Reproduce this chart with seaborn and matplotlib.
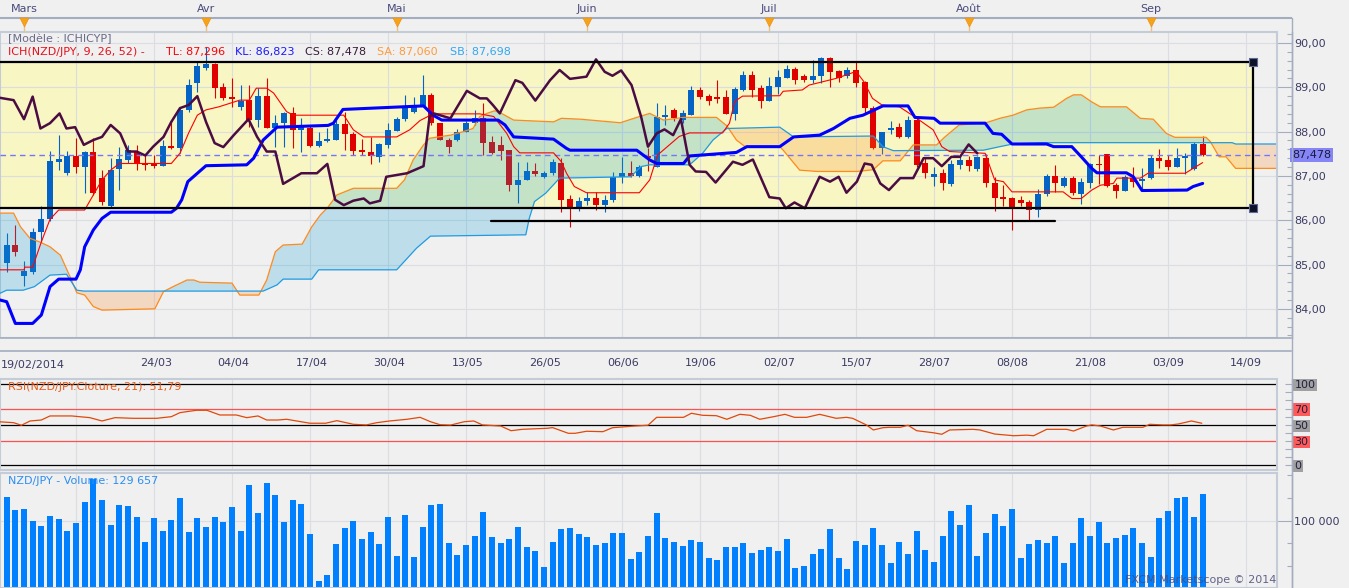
import numpy as np
import matplotlib.pyplot as plt
import matplotlib.transforms as mtransforms
import seaborn as sns
from matplotlib.lines import Line2D
from matplotlib.patches import Polygon, Rectangle
from matplotlib.ticker import FixedLocator, MultipleLocator, AutoMinorLocator, FuncFormatter

sns.set_theme(style="white", rc={"axes.facecolor": "#f0f0f0", "figure.facecolor": "#f0f0f0"})
plt.rcParams["font.family"] = ["DejaVu Sans"]

# NZD/JPY daily candles, bar 0 = 03/03/2014, bar 136 = 09/09/2014
first_bar = -3
opens = [85.12, 85.03, 85.44, 84.73, 84.84, 85.73, 86.03, 87.32, 87.06, 87.46,
         87.19, 87.55, 86.95, 86.33, 87.16, 87.36, 87.55, 87.30, 87.28, 87.23,
         87.68, 87.62, 88.49, 89.10, 89.43, 89.53, 89.00, 88.77, 88.56, 88.71,
         88.26, 88.80, 88.07, 88.19, 88.41, 88.04, 88.09, 87.68, 87.79, 87.81,
         88.17, 87.94, 87.58, 87.55, 87.43, 87.70, 88.02, 88.28, 88.44, 88.58,
         88.83, 88.20, 87.81, 87.81, 88.00, 88.19, 88.30, 87.77, 87.70, 87.58,
         86.79, 86.91, 87.10, 86.97, 87.06, 87.30, 86.47, 86.30, 86.44, 86.49,
         86.34, 86.46, 86.98, 87.07, 87.00, 87.45, 87.21, 88.32, 88.49, 88.26,
         88.37, 88.94, 88.80, 88.79, 88.77, 88.39, 88.94, 89.28, 88.99, 88.68,
         89.00, 89.22, 89.41, 89.26, 89.16, 89.26, 89.65, 89.37, 89.26, 89.39,
         89.13, 88.53, 87.64, 88.04, 88.11, 87.88, 88.26, 87.28, 86.98, 87.06,
         86.82, 87.25, 87.36, 87.16, 87.41, 86.84, 86.52, 86.49, 86.46, 86.42,
         86.23, 86.59, 87.00, 86.78, 86.96, 86.59, 86.85, 87.27, 87.49, 86.79,
         86.67, 86.95, 86.88, 86.95, 87.40, 87.37, 87.21, 87.40, 87.15, 87.72]
highs = [85.20, 85.71, 85.89, 85.08, 85.83, 86.32, 87.56, 87.92, 87.56, 87.86,
         87.57, 87.86, 87.13, 87.40, 87.66, 87.70, 87.70, 87.49, 87.47, 87.81,
         88.26, 88.56, 89.19, 89.58, 89.92, 89.55, 89.09, 89.20, 89.05, 89.05,
         88.98, 89.20, 88.37, 88.44, 88.55, 88.30, 88.12, 87.98, 88.07, 88.26,
         88.45, 87.98, 87.83, 87.88, 87.75, 88.19, 88.33, 88.83, 88.78, 89.28,
         88.87, 88.20, 87.85, 88.05, 88.25, 88.49, 88.64, 87.89, 87.89, 87.58,
         87.32, 87.32, 87.28, 87.12, 87.39, 87.40, 86.57, 86.53, 86.63, 86.63,
         86.58, 87.09, 87.43, 87.33, 87.25, 87.62, 88.64, 88.59, 88.53, 88.49,
         89.03, 89.01, 88.85, 89.16, 88.95, 89.00, 89.37, 89.37, 89.05, 89.23,
         89.39, 89.50, 89.45, 89.30, 89.62, 89.68, 89.68, 89.40, 89.45, 89.56,
         89.15, 88.58, 88.00, 88.24, 88.20, 88.35, 88.35, 87.43, 87.20, 87.15,
         87.36, 87.45, 87.45, 87.45, 87.50, 86.98, 86.79, 86.53, 86.55, 86.46,
         86.70, 87.04, 87.25, 87.00, 87.00, 86.95, 87.29, 87.47, 87.49, 86.85,
         87.02, 87.21, 87.17, 87.47, 87.60, 87.48, 87.64, 87.52, 87.76, 87.90]
lows = [84.98, 84.83, 85.19, 84.51, 84.79, 85.51, 85.98, 87.13, 87.02, 87.07,
        86.61, 86.56, 86.34, 86.28, 86.68, 87.29, 87.13, 87.13, 87.18, 87.22,
        87.61, 87.51, 88.45, 88.90, 89.39, 88.75, 88.71, 88.56, 88.49, 88.11,
        88.11, 88.07, 87.66, 87.66, 87.62, 87.55, 87.66, 87.66, 87.77, 87.81,
        87.58, 87.47, 87.47, 87.27, 87.31, 87.62, 88.02, 88.25, 88.43, 88.58,
        88.15, 87.80, 87.52, 87.78, 87.98, 88.14, 87.47, 87.49, 87.36, 86.67,
        86.38, 86.90, 86.99, 86.95, 87.02, 86.19, 85.85, 86.21, 86.35, 86.22,
        86.19, 86.41, 86.85, 86.98, 86.97, 87.10, 87.21, 88.14, 88.23, 88.20,
        88.37, 88.74, 88.60, 88.64, 88.39, 88.26, 88.92, 88.79, 88.53, 88.68,
        88.85, 89.20, 89.08, 89.12, 89.10, 89.10, 89.00, 89.12, 89.20, 89.00,
        88.43, 87.60, 87.50, 87.95, 87.85, 87.85, 87.20, 86.96, 86.78, 86.68,
        86.77, 87.15, 87.10, 87.10, 86.76, 86.21, 86.33, 85.78, 86.33, 86.00,
        86.08, 86.55, 86.63, 86.75, 86.57, 86.36, 86.73, 86.82, 86.74, 86.51,
        86.65, 86.75, 86.68, 86.92, 87.18, 87.13, 87.20, 87.04, 87.13, 87.46]
closes = [85.03, 85.44, 85.28, 84.86, 85.74, 86.03, 87.34, 87.38, 87.46, 87.19,
          87.55, 86.61, 86.42, 87.13, 87.38, 87.58, 87.28, 87.25, 87.23, 87.68,
          87.62, 88.49, 89.05, 89.47, 89.53, 88.98, 88.75, 88.74, 88.69, 88.26,
          88.80, 88.07, 88.19, 88.41, 88.04, 88.11, 87.68, 87.79, 87.83, 88.17,
          87.94, 87.57, 87.53, 87.46, 87.72, 88.04, 88.28, 88.53, 88.58, 88.83,
          88.19, 87.81, 87.66, 88.00, 88.20, 88.30, 87.75, 87.52, 87.57, 86.79,
          86.91, 87.10, 87.04, 87.07, 87.31, 86.46, 86.30, 86.43, 86.49, 86.34,
          86.46, 86.98, 87.06, 87.00, 87.21, 87.40, 88.34, 88.37, 88.30, 88.41,
          88.94, 88.79, 88.68, 88.74, 88.39, 88.96, 89.28, 88.94, 88.68, 89.03,
          89.24, 89.41, 89.16, 89.16, 89.26, 89.65, 89.35, 89.22, 89.39, 89.10,
          88.53, 87.64, 87.98, 88.09, 87.88, 88.26, 87.25, 87.07, 87.05, 86.83,
          87.27, 87.36, 87.22, 87.42, 86.83, 86.49, 86.47, 86.25, 86.38, 86.23,
          86.59, 87.00, 86.84, 86.95, 86.61, 86.86, 87.27, 87.25, 86.78, 86.67,
          86.98, 86.87, 86.92, 87.40, 87.34, 87.21, 87.40, 87.44, 87.72, 87.478]
volumes = [100700, 126400, 111700, 112900, 99600, 94100, 105100, 101800, 88600, 97400,
           120600, 145500, 122800, 95200, 117600, 116500, 104000, 76500, 102900, 88600,
           100700, 125000, 87500, 102900, 93000, 104000, 98500, 115100, 88600, 139300,
           108400, 141500, 128300, 98500, 122800, 118400, 85300, 33600, 40200, 74300,
           91900, 99600, 79800, 87500, 74300, 104000, 61100, 106200, 60000, 93000,
           117300, 118400, 75400, 62200, 73200, 83100, 109500, 82000, 75400, 79800,
           93000, 71000, 66600, 49000, 76500, 90800, 91900, 85300, 82000, 73200,
           75400, 86400, 86400, 57800, 65500, 83100, 108400, 80900, 76500, 72100,
           78700, 76500, 58900, 56700, 71000, 71000, 75400, 64400, 67700, 71000,
           66600, 79800, 47900, 50100, 63300, 68800, 90800, 58900, 46800, 77600,
           73200, 91900, 73200, 53400, 76500, 63300, 88600, 67700, 54500, 83100,
           110600, 95200, 117300, 61100, 86400, 107300, 94100, 112900, 58900, 74300,
           78700, 75400, 83100, 53400, 75400, 102900, 83100, 98500, 75400, 80900,
           84200, 91900, 75400, 60000, 102900, 110600, 125000, 126100, 104000, 129657]

# Ichimoku lines (vertices, x = bar number)
tenkan_x = [-3, 0, 0.1, 1, 2, 3, 4, 7, 8, 9, 10, 11, 17, 18, 19, 20, 21, 22.5, 24.9, 26,
            26.8, 28, 28.8, 30.3, 31.1, 36.9, 38, 39.2, 43, 44.5, 45.7, 47.2, 52.6, 54.2,
            55.7, 56.5, 57.2, 61.1, 62, 62.6, 63.5, 64.9, 71, 72.2, 73.1, 75.6, 76.8, 80.6,
            81.4, 82, 82.9, 87.2, 87.6, 89.8, 90.6, 93.7, 95.2, 96, 96.9, 97.9, 99, 101,
            102.8, 104.9, 105.9, 106.8, 110.9, 112, 113, 114, 119.9, 120.9, 122, 123.2,
            124.2, 125.7, 126.1, 128.8, 129.7, 134, 134.9, 136]
tenkan_y = [84.88, 84.88, 84.94, 84.94, 85.51, 86.02, 86.23, 86.23, 86.57, 86.91, 87.13,
            87.28, 87.28, 87.51, 87.97, 88.37, 88.49, 88.56, 88.71, 88.71, 88.98, 88.98,
            88.87, 88.45, 88.37, 88.37, 88.04, 87.88, 87.88, 88.04, 88.25, 88.40, 88.40,
            88.34, 87.96, 87.66, 87.52, 87.52, 87.32, 87.06, 86.76, 86.62, 86.62, 86.91,
            87.47, 87.89, 87.97, 87.97, 88.19, 88.68, 88.80, 88.81, 88.91, 88.94, 89.05,
            89.20, 89.30, 89.36, 89.13, 88.75, 88.60, 88.56, 88.33, 88.04, 87.66, 87.55,
            87.51, 86.91, 86.87, 86.64, 86.64, 86.49, 86.49, 86.68, 86.79, 86.83, 86.95,
            86.95, 87.06, 87.06, 87.17, 87.30]
kijun_x = [-3, -2, -1, 1, 2, 3, 4, 6, 6.5, 7, 8, 9, 10, 17, 17.6, 18.2, 18.9, 21, 25.7,
           26.5, 27.6, 29.2, 35.1, 35.7, 36.8, 46.1, 47.2, 48.2, 54.7, 55.5, 56.5, 61.1,
           62.6, 63, 70.7, 72.2, 73, 76.1, 76.8, 79.5, 82.2, 83.4, 87.2, 88.8, 91.8, 93.4,
           95.3, 96.8, 99.1, 102, 102.8, 105, 105.7, 110.9, 111.8, 112.8, 114, 118, 118.8,
           120.9, 122, 123.2, 123.8, 127.2, 128, 129, 134.2, 134.9, 136]
kijun_y = [84.21, 84.16, 83.67, 83.67, 83.86, 84.50, 84.67, 84.67, 84.88, 85.40, 85.78,
           86.04, 86.18, 86.18, 86.27, 86.46, 86.87, 87.23, 87.25, 87.40, 87.81, 88.10,
           88.14, 88.19, 88.50, 88.58, 88.37, 88.26, 88.26, 88.15, 87.88, 87.83, 87.62,
           87.58, 87.58, 87.36, 87.28, 87.28, 87.45, 87.49, 87.53, 87.66, 87.66, 87.88,
           87.92, 88.07, 88.30, 88.37, 88.58, 88.58, 88.32, 88.30, 88.19, 88.19, 87.96,
           87.94, 87.72, 87.72, 87.66, 87.66, 87.43, 87.17, 87.07, 87.07, 86.98, 86.67,
           86.68, 86.76, 86.83]
chikou_x = [-3, -1.2, 0, 1, 1.9, 3, 4.1, 4.9, 5.9, 6.9, 8, 9, 10, 11.1, 12, 13, 14, 14.9,
            16.1, 17, 18, 19, 20, 21, 22, 23, 24.2, 25.9, 26.9, 28, 29, 29.9, 32, 33.8,
            35, 35.9, 36.9, 38, 39.2, 39.9, 41.1, 41.8, 44.2, 46.1, 46.8, 47.3, 49.2, 51.1,
            52.6, 53.4, 54.1, 54.9, 56.7, 57.5, 59, 60.7, 61.8, 63, 64.9, 66, 67, 67.9,
            68.9, 70.1, 71.2, 72, 73, 73.9, 74.9, 75.8, 76.8, 77.5, 78.7, 79.8, 81.8, 82.9,
            84.1, 86, 87.2, 87.9, 88.9, 90.1, 91.8, 93, 94, 94.9, 96.1, 97, 97.8, 98.8,
            99.8, 101.1, 102.6, 103.8, 104.9, 105.9, 107, 108, 109, 110]
chikou_y = [88.77, 88.71, 88.28, 88.79, 88.07, 88.19, 88.41, 88.07, 88.10, 87.70, 87.81,
            87.88, 88.15, 87.96, 87.55, 87.55, 87.46, 87.66, 87.88, 88.22, 88.53, 88.60,
            88.80, 88.22, 87.74, 87.65, 87.92, 88.28, 87.88, 87.55, 87.55, 86.82, 87.06,
            87.06, 87.27, 86.46, 86.34, 86.44, 86.49, 86.38, 86.44, 86.98, 87.06, 87.22,
            88.34, 88.41, 88.30, 88.92, 88.75, 88.75, 88.60, 88.41, 89.16, 89.10, 88.70,
            89.16, 89.39, 89.19, 89.24, 89.63, 89.35, 89.26, 89.38, 89.05, 88.34, 87.66,
            87.96, 88.05, 87.92, 88.28, 87.25, 87.10, 87.09, 86.85, 87.32, 87.25, 87.37,
            86.52, 86.49, 86.27, 86.40, 86.27, 86.98, 86.87, 86.98, 86.62, 86.87, 87.28,
            87.25, 86.83, 86.68, 86.95, 86.95, 87.40, 87.40, 87.22, 87.43, 87.43, 87.71,
            87.51]
senkou_a_x = [-3, -1.2, -0.4, 0.7, 1.8, 3, 4.2, 5.3, 6.1, 7, 8, 9, 15.1, 16.1, 17.2, 18.8,
              19.6, 20.3, 24, 24.9, 27.1, 28, 29, 29.9, 32.1, 33.2, 34.2, 35.1, 36.1, 38,
              43, 43.9, 44.9, 46.1, 46.8, 49.2, 50.7, 51.8, 52.6, 53.4, 54.3, 55.1, 56.5,
              61.1, 62, 64.2, 68.8, 70.7, 72.2, 73.8, 76.1, 79.9, 81.1, 82.2, 83.2, 87.2,
              87.6, 89.5, 91.5, 96.1, 98, 99.1, 101.1, 102.6, 105.3, 106.2, 107.9, 111,
              112.6, 114.1, 115.7, 117.2, 118.8, 120.3, 121.1, 122, 123.2, 124.2, 127.2,
              128.8, 130.3, 131.8, 132.8, 136.4, 136.9, 137.9, 138.7, 139.8, 145]
senkou_a_y = [86.16, 86.16, 85.85, 85.59, 85.51, 85.40, 85.21, 84.73, 84.36, 84.31, 84.05,
              83.97, 84.00, 84.39, 84.50, 84.65, 84.65, 84.60, 84.58, 84.31, 84.31, 84.65,
              85.29, 85.44, 85.46, 85.85, 86.12, 86.30, 86.57, 86.72, 86.72, 86.91, 87.36,
              87.70, 87.85, 87.92, 88.00, 88.07, 88.34, 88.41, 88.47, 88.41, 88.26, 88.22,
              88.30, 88.28, 88.20, 88.32, 88.41, 88.26, 88.32, 88.32, 88.13, 87.81, 87.66,
              87.66, 87.58, 87.13, 87.10, 87.10, 87.14, 87.34, 87.34, 87.70, 87.70, 87.87,
              88.15, 88.20, 88.30, 88.37, 88.49, 88.53, 88.55, 88.75, 88.83, 88.83, 88.67,
              88.56, 88.56, 88.30, 88.28, 87.96, 87.87, 87.87, 87.77, 87.43, 87.43, 87.17,
              87.17]
senkou_b_x = [-3, -2, -0.1, 1.2, 3, 4.9, 6.1, 6.9, 27.6, 29.2, 29.9, 33.2, 34, 43, 45.3,
              46.9, 57.9, 58.3, 58.9, 60.2, 61.8, 70, 71.2, 72.2, 76.8, 78.3, 79.5, 81.1,
              87.2, 88.8, 98, 99.1, 100.3, 110.7, 112.6, 114.1, 117.2, 139.4, 139.8, 145]
senkou_b_y = [84.33, 84.42, 84.42, 84.50, 84.76, 84.78, 84.42, 84.40, 84.40, 84.54, 84.67,
              84.67, 84.88, 84.88, 85.37, 85.64, 85.67, 86.04, 86.42, 86.61, 86.95, 86.98,
              87.21, 87.25, 87.25, 87.51, 87.81, 88.07, 88.10, 87.88, 87.90, 87.66, 87.57,
              87.58, 87.66, 87.72, 87.75, 87.75, 87.72, 87.72]

# RSI(21) vertices
rsi_x = [-3, -1.2, -0.3, 0.7, 2, 3, 5.5, 7.6, 9, 10.5, 12.6, 15.3, 17, 18, 19.9, 21.1,
         22.6, 24.5, 25.7, 27, 28, 29.3, 30.3, 33, 34.8, 36.1, 38, 39.5, 40.7, 42.2, 44.2,
         45.7, 46.9, 48, 49.2, 50.8, 51.9, 52.9, 55, 56.2, 57.5, 60.4, 61, 62.8, 63.6,
         64.9, 66.8, 67.9, 70.5, 72, 73, 76.1, 77, 78.3, 79.9, 81.1, 82.6, 83.8, 84.9,
         86.5, 87.8, 88.9, 90.3, 91.8, 93.7, 94.9, 95.6, 97.2, 98, 99.1, 99.9, 101.1, 102,
         103, 104.9, 105.9, 106.8, 109.5, 110.3, 112, 114.2, 115.7, 116.5, 118, 120.3,
         121.1, 122.6, 123.2, 124.2, 125.7, 126.8, 129.1, 129.9, 131.4, 132.3, 133.2,
         134.7, 135.9]
rsi_y = [53.8, 52.6, 49.4, 54.7, 55.9, 60.9, 60.9, 58.8, 54.7, 58.8, 58.0, 58.0, 60.0,
         65.0, 67.9, 67.9, 62.1, 62.1, 58.8, 60.9, 55.9, 55.9, 56.8, 51.9, 51.9, 55.1,
         50.6, 49.8, 52.6, 54.7, 56.8, 59.2, 53.8, 50.1, 49.6, 53.8, 54.7, 49.8, 48.5,
         42.7, 44.4, 45.7, 46.5, 39.5, 39.5, 42.0, 41.5, 46.4, 48.5, 49.4, 59.2, 59.2,
         64.2, 61.7, 61.2, 56.8, 62.9, 61.7, 56.8, 60.0, 62.9, 59.2, 59.2, 62.9, 58.0,
         59.2, 58.0, 49.8, 43.6, 46.4, 46.9, 46.9, 49.4, 42.7, 40.2, 38.3, 43.6, 44.4,
         43.6, 38.6, 36.5, 37.2, 36.5, 44.4, 44.4, 42.3, 48.5, 49.8, 48.5, 43.6, 46.9,
         46.9, 50.6, 49.8, 49.8, 51.0, 54.7, 51.9]
rsi_levels = [0, 30, 50, 70, 100]

# drawing on the chart: range box and support line
box_start, box_end = -6, 141.8
box_low, box_high = 86.27, 89.58
support_level, support_start, support_end = 85.98, 53.9, 119.0
last_close = 87.478

# axes labels
date_bars = [-3, 6, 15, 24, 33, 42, 51, 60, 69, 78, 87, 96, 105, 114, 123, 132, 141]
date_labels = ["", "", "24/03", "04/04", "17/04", "30/04", "13/05", "26/05", "06/06",
               "19/06", "02/07", "15/07", "28/07", "08/08", "21/08", "03/09", "14/09"]
month_bars = [0, 21, 43, 65, 86, 109, 130]
month_names = ["Mars", "Avr", "Mai", "Juin", "Juil", "Août", "Sep"]
price_ticks = [84, 85, 86, 87, 88, 89, 90]

BG = "#f0f0f0"
GRID = "#dadde2"
FRAME = "#c4ccd8"
AXIS = "#a3adbf"
TXT = "#3c3c64"
UP, DOWN = "#0563c6", "#e10000"

W, H = 1349, 588
BAR0_PX, BAR_PX = 24.0, 78 / 9


def bar_at(px):
    return (px - BAR0_PX) / BAR_PX


fig = plt.figure(figsize=(W / 100, H / 100), dpi=100, facecolor=BG)


def add_box(l, t, r, b):
    return fig.add_axes([l / W, 1 - b / H, (r - l) / W, (b - t) / H])


def frame(a):
    for s in ("left", "top", "bottom"):
        a.spines[s].set_color(FRAME)
        a.spines[s].set_linewidth(1.5)
    a.spines["right"].set_position(("outward", 10.6))
    a.spines["right"].set_color(AXIS)
    a.spines["right"].set_linewidth(1)
    a.plot([1, 1], [0, 1], transform=a.transAxes, color=FRAME, lw=1.5,
           clip_on=False, zorder=10)
    a.set_axisbelow(True)
    a.set_xticks(date_bars)
    a.tick_params(axis="x", length=0, labelbottom=False)
    a.grid(True, axis="x", color=GRID, lw=0.8)
    a.yaxis.set_ticks_position("right")
    a.set_xlabel("")
    a.set_ylabel("")


xlim = (bar_at(0), bar_at(1277))
bars = np.arange(first_bar, first_bar + len(closes))
o, h, l, c = map(np.array, (opens, highs, lows, closes))

# right-hand scale line running down the whole chart
fig.add_artist(Line2D([1291.6 / W] * 2, [1 - 18 / H, 0], color=AXIS, lw=1))

# ---------------- main price panel ----------------
ax = add_box(0, 32, 1277, 338)
frame(ax)
ax.grid(True, axis="y", color=GRID, lw=0.8)

ax.add_patch(Rectangle((box_start, box_low), box_end - box_start, box_high - box_low,
                       fc="#f8f6c2", ec="none", zorder=0.2))

col = np.where(c >= o, UP, DOWN)
ax.vlines(bars, l, h, colors=col, lw=0.8, zorder=2)
ax.bar(bars, np.maximum(np.abs(c - o), 0.025), bottom=np.minimum(o, c), width=0.7,
       color=col, lw=0, zorder=2.2)

# kumo: area between the spans, blue where A is on top, orange where B is on top
sa_x, sa_y, sb_x, sb_y = map(np.array, (senkou_a_x, senkou_a_y, senkou_b_x, senkou_b_y))
between = np.column_stack([np.r_[sa_x, sb_x[::-1]], np.r_[sa_y, sb_y[::-1]]])
for xs, ys, fc in [(sa_x, sa_y, "#089cd8"), (sb_x, sb_y, "#ff871e")]:
    under = np.column_stack([np.r_[xs, xs[-1], xs[0]], np.r_[ys, 80, 80]])
    patch = Polygon(between, closed=True, fc=fc, ec="none", alpha=0.22, zorder=3)
    ax.add_patch(patch)
    patch.set_clip_path(Polygon(under, closed=True, transform=ax.transData))
    patch.set_clip_box(ax.bbox)

sns.lineplot(x=sa_x, y=sa_y, ax=ax, color="#ff8a1c", lw=0.9, sort=False, zorder=4)
sns.lineplot(x=sb_x, y=sb_y, ax=ax, color="#1e9be2", lw=0.9, sort=False, zorder=4)
ax.axhline(last_close, color="#7474ff", lw=1, ls=(0, (4, 3)), zorder=4)
sns.lineplot(x=tenkan_x, y=tenkan_y, ax=ax, color="#ff0000", lw=0.8, sort=False, zorder=5)
sns.lineplot(x=kijun_x, y=kijun_y, ax=ax, color="#0000ff", lw=2.2, sort=False, zorder=5.1)
sns.lineplot(x=chikou_x, y=chikou_y, ax=ax, color="#4a0c42", lw=1.8, sort=False, zorder=5.2)

ax.plot([box_start, box_end, box_end, box_start], [box_high, box_high, box_low, box_low],
        color="black", lw=1.6, zorder=6)
ax.plot([support_start, support_end], [support_level, support_level],
        color="black", lw=1.6, zorder=6)
ax.scatter([box_end, box_end], [box_high, box_low], marker="s", s=30, c="#121226",
           edgecolors="#5a6a9a", linewidths=0.8, zorder=7)

ax.set_xlim(xlim)
ax.set_ylim(83.341, 90.248)
ax.yaxis.set_major_locator(FixedLocator(price_ticks))
ax.yaxis.set_minor_locator(MultipleLocator(0.2))
ax.yaxis.set_major_formatter(FuncFormatter(lambda v, _: f"{v:.2f}".replace(".", ",")))
ax.tick_params(axis="y", which="major", direction="in", length=10.6, width=0.8, color=AXIS,
               pad=2, labelsize=8, labelcolor=TXT, left=False, labelleft=False)
ax.tick_params(axis="y", which="minor", direction="in", length=3.6, width=0.8, color=AXIS,
               left=False)
ax.text(1292 / 1277, last_close, f"{last_close:.3f}".replace(".", ","),
        transform=mtransforms.blended_transform_factory(ax.transAxes, ax.transData),
        ha="left", va="center", fontsize=8, color="#1a1a40", clip_on=False, zorder=20,
        bbox=dict(facecolor="#8585f5", edgecolor="none", pad=1.5))

# legend lines of the indicator
fig.text(8 / W, 1 - 38.5 / H, "[Modèle : ICHICYP]", fontsize=8, color="#6a6a8a",
         va="center")
legend_parts = [(8, "ICH(NZD/JPY, 9, 26, 52) -", "#e8101a"),
                (165.7, "TL: 87,296", "#ff0000"),
                (235, "KL: 86,823", "#1a1aff"),
                (305, "CS: 87,478", "#3a1a3a"),
                (377.3, "SA: 87,060", "#ff9a3a"),
                (450, "SB: 87,698", "#30a8f0")]
for xp, txt, tc in legend_parts:
    fig.text(xp / W, 1 - 52 / H, txt, fontsize=8, color=tc, va="center")

# ---------------- top month band ----------------
ax_top = add_box(0, 0, 1291, 18)
ax_top.set_xlim(bar_at(0), bar_at(1291))
ax_top.set_ylim(0, 1)
for s in ("left", "top", "right"):
    ax_top.spines[s].set_visible(False)
ax_top.spines["bottom"].set_color(AXIS)
ax_top.spines["bottom"].set_linewidth(1.5)
ax_top.set_yticks([])
step_first = (month_bars[1] - month_bars[0]) / 8
step_after = 30 / BAR_PX
top_ticks = [month_bars[0] - step_first]
for a0, a1 in zip(month_bars[:-1], month_bars[1:]):
    top_ticks += list(np.linspace(a0, a1, 9)[:-1])
top_ticks += list(np.arange(month_bars[-1], bar_at(1290), step_after))
ax_top.set_xticks(top_ticks)
ax_top.tick_params(axis="x", direction="out", length=3.6, width=0.8, color=AXIS,
                   labelbottom=False)
top_trans = mtransforms.blended_transform_factory(ax_top.transData, ax_top.transAxes)
for mb, name in zip(month_bars, month_names):
    ax_top.text(mb, 0.5, name, ha="center", va="center", fontsize=8, color="#4a4a7c")
ax_top.vlines(month_bars, -0.45, -0.78, transform=top_trans, colors="#e6c28a", lw=1,
              clip_on=False)
ax_top.scatter(month_bars, [-0.24] * len(month_bars), marker="v", s=42, c="#f7a21b",
               edgecolors="#e8921a", linewidths=0.5, transform=top_trans, clip_on=False,
               zorder=5)

# ---------------- bottom date band ----------------
ax_time = add_box(0, 338, 1291, 351)
ax_time.set_xlim(bar_at(0), bar_at(1291))
ax_time.set_ylim(0, 1)
ax_time.set_yticks([])
ax_time.spines["left"].set_visible(False)
ax_time.spines["right"].set_visible(False)
for s in ("top", "bottom"):
    ax_time.spines[s].set_color(AXIS)
    ax_time.spines[s].set_linewidth(1.2)
ax_time.set_xticks(date_bars)
ax_time.set_xticklabels(date_labels)
ax_time.xaxis.set_minor_locator(AutoMinorLocator(8))
ax_time.tick_params(axis="x", which="major", direction="in", length=9.4, width=0.8,
                    color=AXIS, pad=5, labelsize=8, labelcolor=TXT)
ax_time.tick_params(axis="x", which="minor", direction="in", length=3.6, width=0.8,
                    color=AXIS)
fig.text(1 / W, 1 - 365 / H, "19/02/2014", fontsize=8, color=TXT, va="center")

# ---------------- RSI panel ----------------
ax_rsi = add_box(0, 379, 1277, 470)
frame(ax_rsi)
for lvl, lc in zip(rsi_levels, ["black", "#ff5050", "black", "#ff5050", "black"]):
    ax_rsi.axhline(lvl, color=lc, lw=0.9, zorder=2)
sns.lineplot(x=rsi_x, y=rsi_y, ax=ax_rsi, color="#e2480a", lw=0.9, sort=False, zorder=3)
ax_rsi.set_xlim(xlim)
ax_rsi.set_ylim(-5.8, 106.5)
ax_rsi.set_yticks(rsi_levels)
ax_rsi.set_yticklabels([str(v) for v in rsi_levels])
ax_rsi.yaxis.set_minor_locator(MultipleLocator(10))
ax_rsi.tick_params(axis="y", which="both", direction="in", length=5, width=0.8,
                   color=AXIS, pad=2, labelsize=8, labelcolor="#202040", left=False,
                   labelleft=False)
for lab, bg in zip(ax_rsi.get_yticklabels(),
                   ["#a0a0a0", "#ff5a5a", "#a0a0a0", "#ff5a5a", "#a0a0a0"]):
    lab.set_bbox(dict(facecolor=bg, edgecolor="none", pad=0.8))
fig.text(8 / W, 1 - 386.7 / H, "RSI(NZD/JPY.Cloture, 21): 51,79", fontsize=8,
         color="#e85a1a", va="center")

# ---------------- volume panel ----------------
ax_vol = add_box(0, 473, 1277, 588)
sns.barplot(x=bars, y=volumes, native_scale=True, orient="x", color="#0080ff",
            saturation=1, width=0.7, errorbar=None, ax=ax_vol, zorder=2,
            linewidth=0, edgecolor="none")
frame(ax_vol)
ax_vol.axhline(100000, color=GRID, lw=0.8, zorder=0.5)
ax_vol.set_xlim(xlim)
ax_vol.set_ylim(25874, 152490)
ax_vol.yaxis.set_major_locator(FixedLocator([100000]))
ax_vol.yaxis.set_major_formatter(FuncFormatter(lambda v, _: f"{int(v):,}".replace(",", " ")))
ax_vol.yaxis.set_minor_locator(MultipleLocator(25000))
ax_vol.tick_params(axis="y", which="major", direction="in", length=10.6, width=0.8,
                   color=AXIS, pad=2, labelsize=8, labelcolor=TXT, left=False,
                   labelleft=False)
ax_vol.tick_params(axis="y", which="minor", direction="in", length=3.6, width=0.8,
                   color=AXIS, left=False)
fig.text(8 / W, 1 - 481 / H, "NZD/JPY - Volume: 129 657", fontsize=8, color="#2c8ef0",
         va="center")
fig.text(1276 / W, 1 - 580 / H, "FXCM Marketscope © 2014", fontsize=8, color="#4a4a78",
         alpha=0.85, ha="right", va="center", zorder=20)

fig.savefig("out.png", dpi=100, facecolor=BG)
